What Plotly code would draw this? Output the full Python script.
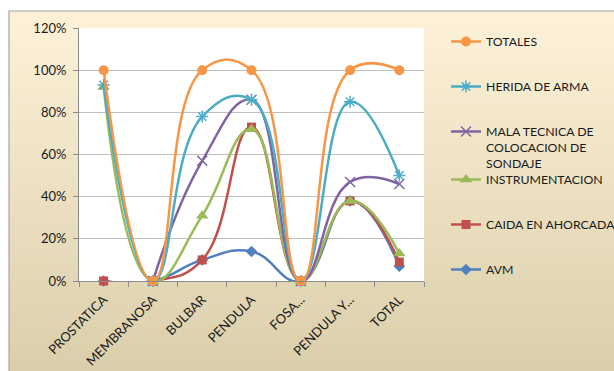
import plotly.graph_objects as go

categories = ["PROSTATICA", "MEMBRANOSA", "BULBAR", "PENDULA", "FOSA...", "PENDULA Y...", "TOTAL"]
avm = [0.0, 0.0, 0.10, 0.14, 0.0, 0.38, 0.07]
caida = [0.0, 0.0, 0.10, 0.73, 0.0, 0.38, 0.09]
instrumentacion = [0.92, 0.0, 0.31, 0.72, 0.0, 0.38, 0.13]
mala_tecnica = [None, 0.0, 0.57, 0.86, 0.0, 0.47, 0.46]
herida = [0.93, 0.0, 0.78, 0.86, 0.0, 0.85, 0.50]
totales = [1.0, 0.0, 1.0, 1.0, 0.0, 1.0, 1.0]
y_ticks = [0, 0.2, 0.4, 0.6, 0.8, 1.0, 1.2]

W, H = 614, 371
PL, PR, PT, PB = 79, 424, 28, 281
pw, ph = PR - PL, PB - PT
def px(x): return (x - PL) / pw
def py(y): return (PB - y) / ph

FONT = "Lato, 'Open Sans', sans-serif"
series = [
    ("AVM", avm, "#4F81BD", dict(symbol="diamond", size=9), "legend2"),
    ("CAIDA EN AHORCADA", caida, "#C0504D", dict(symbol="square", size=9), "legend2"),
    ("INSTRUMENTACION", instrumentacion, "#9BBB59", dict(symbol="triangle-up", size=11), "legend2"),
    ("MALA TECNICA DE<br>COLOCACION DE<br>SONDAJE", mala_tecnica, "#8064A2",
     dict(symbol="x-thin-open", size=10, line=dict(width=1.5, color="#8064A2")), "legend"),
    ("HERIDA DE ARMA", herida, "#4BACC6",
     dict(symbol="asterisk-open", size=10, line=dict(width=1.5, color="#4BACC6")), "legend"),
    ("TOTALES", totales, "#F79646", dict(symbol="circle", size=10), "legend"),
]

fig = go.Figure()
for i, (name, vals, color, mk, lg) in enumerate(series):
    fig.add_trace(go.Scatter(
        x=categories, y=vals, name=name, mode="lines+markers",
        line=dict(color=color, width=2.5, shape="spline", smoothing=1.3),
        marker=dict(color=color, **mk), cliponaxis=False, connectgaps=False,
        legend=lg, legendrank=100 - i, legendgroup=name,
    ))

# background gradient (chart area)
shapes = []
top = (253, 242, 216)
bot = (218, 206, 170)
n = 60
y0p, y1p = 11, H + 5
for k in range(n):
    t = k / (n - 1)
    c = tuple(int(round(top[j] + (bot[j] - top[j]) * t)) for j in range(3))
    ya = y0p + (y1p - y0p) * k / n
    yb = y0p + (y1p - y0p) * (k + 1) / n + 0.6
    shapes.append(dict(type="rect", xref="paper", yref="paper", layer="below",
                       x0=px(9), x1=px(W + 5), y0=py(yb), y1=py(ya),
                       fillcolor="rgb(%d,%d,%d)" % c, line=dict(width=0)))
shapes.append(dict(type="rect", xref="paper", yref="paper", layer="below",
                   x0=px(9), x1=px(W + 5), y0=py(H + 5), y1=py(11),
                   fillcolor="rgba(0,0,0,0)", line=dict(width=1.2, color="#A6A6A6")))
shapes.append(dict(type="rect", xref="paper", yref="paper", layer="below",
                   x0=0, x1=1, y0=0, y1=1, fillcolor="white", line=dict(width=0)))

legend_common = dict(font=dict(family=FONT, size=12.3, color="#1a1a1a"),
                     bgcolor="rgba(0,0,0,0)", tracegroupgap=26, valign="top",
                     xanchor="left", yanchor="top", itemwidth=30)
fig.update_layout(
    width=W, height=H,
    margin=dict(l=PL, r=W - PR, t=PT, b=H - PB, autoexpand=False),
    paper_bgcolor="white", plot_bgcolor="white",
    font=dict(family=FONT, size=13, color="#1a1a1a"),
    shapes=shapes,
    legend=dict(x=px(446), y=py(27), **legend_common),
    legend2=dict(x=px(446), y=py(165), **legend_common),
    xaxis=dict(type="category", range=[-0.5, 6.5], tickangle=-45, automargin=False,
               showline=True, linecolor="#8C8C8C", linewidth=1,
               ticks="outside", tickson="boundaries", ticklen=5, tickcolor="#8C8C8C",
               showgrid=False, tickfont=dict(size=13), ticklabelstandoff=5),
    yaxis=dict(range=[0, 1.2], tickvals=y_ticks, tickformat=".0%", automargin=False,
               showline=True, linecolor="#8C8C8C", linewidth=1,
               ticks="outside", ticklen=5, tickcolor="#8C8C8C",
               gridcolor="#BFBFBF", gridwidth=1, zeroline=False,
               tickfont=dict(size=13), ticklabelstandoff=4),
)
fig.write_html("out.html", config={"displayModeBar": False},
               post_script="document.body.style.margin='0';document.body.style.padding='0';")
